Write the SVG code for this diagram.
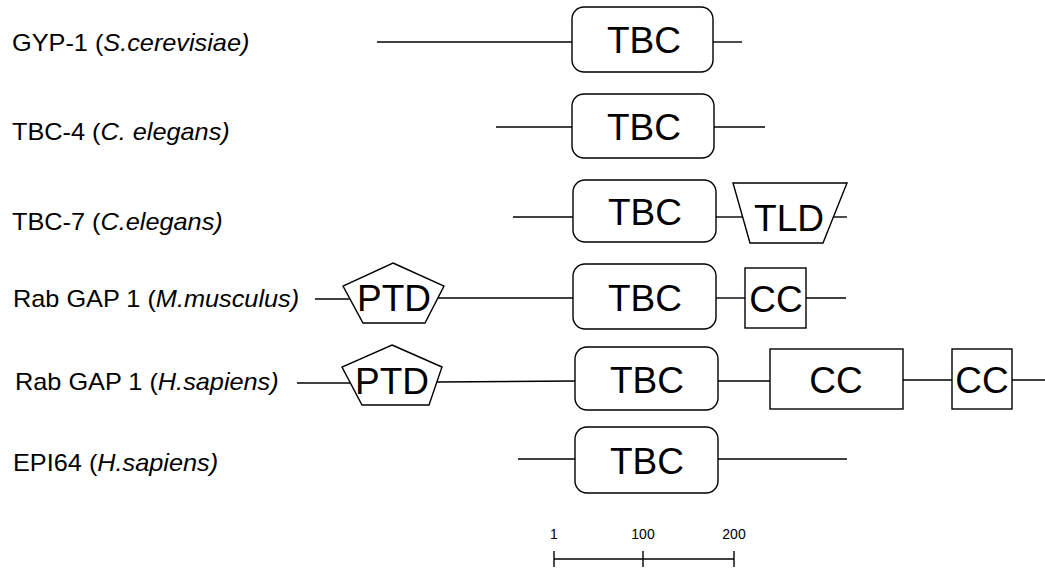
<svg xmlns="http://www.w3.org/2000/svg" width="1045" height="569" viewBox="0 0 1045 569">
  <style>
    .bg { fill: #ffffff; }
    .line { stroke: #000; stroke-width: 1.4; fill: none; }
    .dom { stroke: #000; stroke-width: 1.4; fill: #ffffff; }
    .dlabel { font-family: "Liberation Sans", Arial, sans-serif; font-size: 37px; fill: #000; text-anchor: middle; }
    .name { font-family: "Liberation Sans", Arial, sans-serif; font-size: 23px; fill: #000; }
    .it { font-style: italic; }
    .scale { font-family: "Liberation Sans", Arial, sans-serif; font-size: 14px; fill: #000; text-anchor: middle; }
  </style>
  <rect class="bg" x="0" y="0" width="1045" height="569"/>

  <!-- protein names -->
  <g id="labels">
    <text class="name" transform="translate(12,51) scale(1.1,1)">GYP-1 (<tspan class="it">S.cerevisiae)</tspan></text>
    <text class="name" transform="translate(12,140) scale(1.1,1)">TBC-4 (<tspan class="it">C. elegans)</tspan></text>
    <text class="name" transform="translate(12,230) scale(1.1,1)">TBC-7 (<tspan class="it">C.elegans)</tspan></text>
    <text class="name" transform="translate(13,307) scale(1.1,1)">Rab GAP 1 (<tspan class="it">M.musculus)</tspan></text>
    <text class="name" transform="translate(15,390) scale(1.1,1)">Rab GAP 1 (<tspan class="it">H.sapiens)</tspan></text>
    <text class="name" transform="translate(13,471) scale(1.1,1)">EPI64 (<tspan class="it">H.sapiens)</tspan></text>
  </g>

  <!-- backbone lines linking the domains -->
  <g id="connectors">
    <line class="line" x1="377" y1="42" x2="572" y2="42"/>
    <line class="line" x1="713" y1="42" x2="742" y2="42"/>

    <line class="line" x1="496" y1="127" x2="572" y2="127"/>
    <line class="line" x1="714" y1="127" x2="765" y2="127"/>

    <line class="line" x1="513" y1="217" x2="573" y2="217"/>
    <line class="line" x1="716" y1="217" x2="743" y2="217"/>
    <line class="line" x1="833" y1="217" x2="847" y2="217"/>

    <line class="line" x1="315" y1="299" x2="350" y2="299"/>
    <line class="line" x1="437" y1="298" x2="573" y2="298"/>
    <line class="line" x1="716" y1="298" x2="745" y2="298"/>
    <line class="line" x1="806" y1="298" x2="846" y2="298"/>

    <line class="line" x1="297" y1="383" x2="350" y2="383"/>
    <line class="line" x1="436" y1="382" x2="575" y2="381"/>
    <line class="line" x1="718" y1="381" x2="770" y2="381"/>
    <line class="line" x1="903" y1="380" x2="952" y2="380"/>
    <line class="line" x1="1012" y1="380" x2="1045" y2="380"/>

    <line class="line" x1="518" y1="459" x2="575" y2="459"/>
    <line class="line" x1="718" y1="459" x2="847" y2="459"/>
  </g>

  <!-- GYP-1 -->
  <g id="gyp1-tbc">
    <rect class="dom" x="572" y="7" width="141" height="65" rx="12"/>
    <text class="dlabel" x="644" y="53">TBC</text>
  </g>

  <!-- TBC-4 -->
  <g id="tbc4-tbc">
    <rect class="dom" x="572" y="94" width="142" height="64" rx="12"/>
    <text class="dlabel" x="644" y="140">TBC</text>
  </g>

  <!-- TBC-7 -->
  <g id="tbc7-tbc">
    <rect class="dom" x="573" y="180" width="143" height="62" rx="12"/>
    <text class="dlabel" x="645" y="225">TBC</text>
  </g>
  <g id="tbc7-tld">
    <polygon class="dom" points="733,183 847,183 823,243 750,243"/>
    <text class="dlabel" x="789" y="231">TLD</text>
  </g>

  <!-- Rab GAP 1 (M. musculus) -->
  <g id="mm-ptd">
    <polygon class="dom" points="393,263 444,286 425,323 363,323 343,286"/>
    <text class="dlabel" x="394" y="311">PTD</text>
  </g>
  <g id="mm-tbc">
    <rect class="dom" x="573" y="264" width="143" height="65" rx="12"/>
    <text class="dlabel" x="645" y="311">TBC</text>
  </g>
  <g id="mm-cc">
    <rect class="dom" x="745" y="268" width="61" height="60"/>
    <text class="dlabel" x="776" y="312">CC</text>
  </g>

  <!-- Rab GAP 1 (H. sapiens) -->
  <g id="hs-ptd">
    <polygon class="dom" points="392,345 442,367 429,405 362,405 342,367"/>
    <text class="dlabel" x="392" y="394">PTD</text>
  </g>
  <g id="hs-tbc">
    <rect class="dom" x="575" y="347" width="143" height="63" rx="12"/>
    <text class="dlabel" x="647" y="393">TBC</text>
  </g>
  <g id="hs-cc1">
    <rect class="dom" x="770" y="349" width="133" height="60"/>
    <text class="dlabel" x="836" y="393">CC</text>
  </g>
  <g id="hs-cc2">
    <rect class="dom" x="952" y="349" width="60" height="60"/>
    <text class="dlabel" x="982" y="393">CC</text>
  </g>

  <!-- EPI64 -->
  <g id="epi64-tbc">
    <rect class="dom" x="575" y="427" width="143" height="66" rx="12"/>
    <text class="dlabel" x="647" y="474">TBC</text>
  </g>

  <!-- length scale in residues -->
  <g id="scale-bar">
    <line class="line" x1="554" y1="559" x2="734" y2="559"/>
    <line class="line" x1="554" y1="551" x2="554" y2="567"/>
    <line class="line" x1="643" y1="551" x2="643" y2="567"/>
    <line class="line" x1="734" y1="551" x2="734" y2="567"/>
    <text class="scale" x="554" y="539">1</text>
    <text class="scale" x="643" y="539">100</text>
    <text class="scale" x="734" y="539">200</text>
  </g>
</svg>
